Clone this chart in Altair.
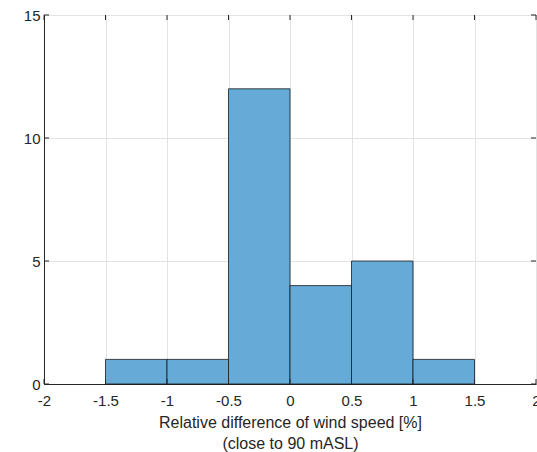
import altair as alt
import pandas as pd

# Histogram bins of the relative wind-speed difference and their counts
bin_start = [-1.5, -1.0, -0.5, 0.0, 0.5, 1.0]
bin_end = [-1.0, -0.5, 0.0, 0.5, 1.0, 1.5]
counts = [1, 1, 12, 4, 5, 1]

x_ticks = [-2, -1.5, -1, -0.5, 0, 0.5, 1, 1.5, 2]
y_ticks = [0, 5, 10, 15]

bars = pd.DataFrame({"start": bin_start, "end": bin_end, "count": counts})
xt = pd.DataFrame({"v": x_ticks})
yt = pd.DataFrame({"v": y_ticks})

W, H = 492, 369
FONT = "Liberation Sans"
AX = "#262626"

xscale = alt.Scale(domain=[-2, 2], nice=False)
yscale = alt.Scale(domain=[0, 15], nice=False)

hist = alt.Chart(bars).mark_rect(
    fill="#66AAD7", stroke="#1a1a1a", strokeWidth=0.8
).encode(
    x=alt.X(
        "start:Q",
        scale=xscale,
        axis=alt.Axis(
            values=x_ticks, format="~g",
            title=["Relative difference of wind speed [%]", "(close to 90 mASL)"],
            titleFont=FONT, titleFontSize=16, titleFontWeight="normal",
            titleColor=AX, titlePadding=6, titleLineHeight=21,
            labelFont=FONT, labelFontSize=15, labelColor=AX, labelPadding=9,
            labelExpr="replace(datum.label, '\u2212', '-')",
            labelOverlap=False, labelFlush=False,
            tickSize=0, domainColor=AX, domainWidth=1,
            gridColor="#e3e3e3", gridWidth=1,
        ),
    ),
    x2="end:Q",
    y=alt.Y(
        "count:Q",
        scale=yscale,
        axis=alt.Axis(
            values=y_ticks, title=None, format="~g",
            labelFont=FONT, labelFontSize=15, labelColor=AX, labelPadding=4,
            tickSize=0, domainColor=AX, domainWidth=1,
            gridColor="#e3e3e3", gridWidth=1,
        ),
    ),
    y2=alt.datum(0),
)

# Inward tick marks on all four sides of the box
tick_bottom = alt.Chart(xt).mark_rule(color=AX, strokeWidth=1).encode(
    x=alt.X("v:Q", scale=xscale), y=alt.value(H), y2=alt.value(H - 5)
)
tick_top = alt.Chart(xt).mark_rule(color=AX, strokeWidth=1).encode(
    x=alt.X("v:Q", scale=xscale), y=alt.value(0), y2=alt.value(5)
)
tick_left = alt.Chart(yt).mark_rule(color=AX, strokeWidth=1).encode(
    y=alt.Y("v:Q", scale=yscale), x=alt.value(0), x2=alt.value(5)
)
tick_right = alt.Chart(yt).mark_rule(color=AX, strokeWidth=1).encode(
    y=alt.Y("v:Q", scale=yscale), x=alt.value(W), x2=alt.value(W - 5)
)

chart = alt.layer(hist, tick_bottom, tick_top, tick_left, tick_right).properties(
    width=W,
    height=H,
    autosize=alt.AutoSizeParams(type="none"),
    padding={"left": 44, "top": 15, "right": 1, "bottom": 68},
    background="white",
).configure_view(stroke="#8c8c8c", strokeWidth=1)

chart.save("out.html", embed_options={"renderer": "svg", "actions": False})
